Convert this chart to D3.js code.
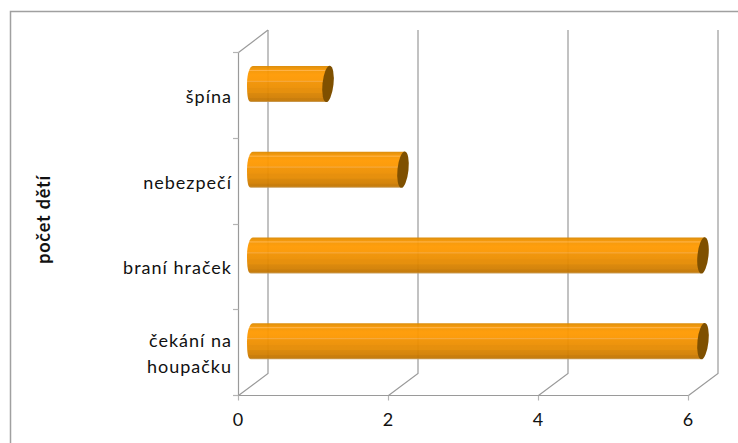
<!DOCTYPE html>
<html><head><meta charset="utf-8">
<script src="https://cdn.jsdelivr.net/npm/d3@7"></script>
<style>html,body{margin:0;padding:0;background:#fff}svg{display:block}text{font-family:Lato,"Noto Sans",sans-serif;fill:#111}</style>
</head><body><svg id="c" width="738" height="443"></svg>
<script>
const categories = ["špína", "nebezpečí", "braní hraček", "čekání na houpačku"];
const values = [1, 2, 6, 6];
const xTicks = [0, 2, 4, 6];
const axisTitle = "počet dětí";

const svg = d3.select("#c");
const x = d3.scaleLinear().domain([0, 6]).range([238, 688]);
const y = d3.scaleBand().domain(categories).range([52, 395]);
const depthX = 29.5, depthY = -22, lineColor = "#9a9a9a";

svg.append("path").attr("d", "M10.5,443V11.5H738").attr("fill", "none").attr("stroke", "#a0a0a0").attr("stroke-width", 1.5);

const walls = svg.append("g").attr("fill", "none").attr("stroke", lineColor).attr("stroke-width", 1.2);
xTicks.forEach(t => {
  const px = Math.round(x(t)) + .5;
  walls.append("path").attr("d", `M${px},395.5v5`).attr("stroke", "#b4b4b4");
  walls.append("path").attr("d", `M${px},395.5L${px + depthX},${395.5 + depthY}V${52 + depthY}`);
});
walls.append("path").attr("d", "M238.5,52.5V395.5H688.5");
walls.append("path").attr("d", "M238.5,52.5L268,30");
y.domain().forEach(c => {
  const py = Math.round(y(c)) + .5;
  walls.append("path").attr("d", `M233,${py}H238.5`).attr("stroke", "#b4b4b4");
});
walls.append("path").attr("d", "M233,395.5H238.5").attr("stroke", "#b4b4b4");

const defs = svg.append("defs");
const g = defs.append("linearGradient").attr("id", "cyl").attr("x1", 0).attr("y1", 0).attr("x2", 0).attr("y2", 1);
[[0,"#d98700"],[.05,"#e88f00"],[.1,"#f59500"],[.125,"#ffb244"],[.155,"#f79600"],[.25,"#ff9900"],[.4,"#fb9700"],[.43,"#f5a536"],[.46,"#f19100"],[.6,"#ec8e00"],[.62,"#e68a00"],[.74,"#e48a00"],[.76,"#d98300"],[.88,"#d27e00"],[.9,"#c87800"],[.96,"#c47600"],[1,"#c79a55"]]
  .forEach(([o, c]) => g.append("stop").attr("offset", o).attr("stop-color", c));

const barH = 36, rx = 5.5, capOffset = 15;
const bars = svg.append("g");
categories.forEach((c, i) => {
  const cy = y(c) + y.bandwidth() / 2 - 11;
  const x0 = x(0) + capOffset, x1 = x(values[i]) + capOffset;
  const top = cy - barH / 2, bot = cy + barH / 2, h = barH / 2;
  const d = `M${x0},${top}H${x1 + 2}L${x1 - 2},${bot}H${x0 - 2}`
    + `C${x0 - 5},${bot} ${x0 - 6},${cy + h * .7} ${x0 - 6},${cy}`
    + `C${x0 - 6},${cy - h * .6} ${x0 - 3},${top} ${x0},${top}Z`;
  bars.append("path").attr("d", d).attr("fill", "url(#cyl)").attr("fill-opacity", .95);
  bars.append("ellipse").attr("rx", rx).attr("ry", h + .3)
    .attr("transform", `translate(${x1},${cy}) rotate(6)`).attr("fill", "#7f5000");
});

svg.append("g").selectAll("text").data(xTicks).join("text")
  .attr("x", d => x(d)).attr("y", 426).attr("text-anchor", "middle").attr("font-size", 18).text(d => d);

const lines = {"čekání na houpačku": ["čekání na", "houpačku"]};
categories.forEach(c => {
  const cy = y(c) + y.bandwidth() / 2;
  const parts = lines[c] || [c];
  parts.forEach((t, j) => {
    svg.append("text").attr("x", 232).attr("text-anchor", "end").attr("font-size", 18)
      .attr("y", cy + 8 + (j - (parts.length - 1) / 2) * 26).attr("letter-spacing", 1).text(t);
  });
});

svg.append("text").attr("transform", "translate(50,219.5) rotate(-90)").attr("text-anchor", "middle")
  .attr("font-size", 18).attr("font-weight", 700).attr("letter-spacing", .8).text(axisTitle);
</script>
</body></html>
